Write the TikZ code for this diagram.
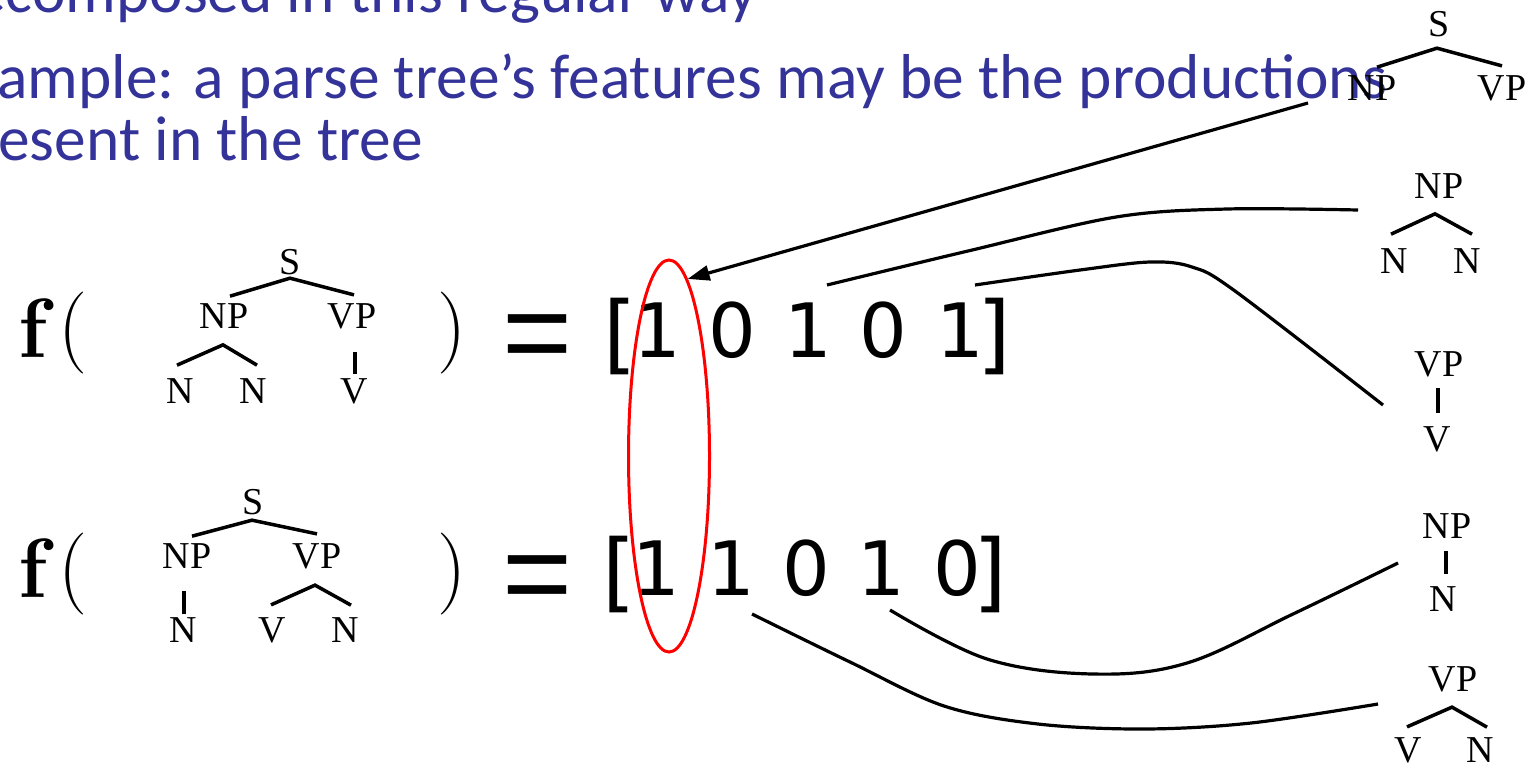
\documentclass[tikz,border=0pt]{standalone}
\usepackage{fontspec}
\usetikzlibrary{shapes.geometric,arrows.meta,calc}
\newfontfamily\bluefont{Carlito}
\newfontfamily\treefont{Liberation Serif}
\newfontfamily\digfont{DejaVu Sans}
\newfontfamily\eqfont{Liberation Sans}
\definecolor{slideblue}{RGB}{51,51,153}
\begin{document}
\begin{tikzpicture}[x=0.5pt,y=-0.5pt,
  lab/.style={inner sep=0pt, font=\treefont\fontsize{19}{19}\selectfont},
  tl/.style={line width=1.75pt},
  con/.style={line width=1.6pt},
  btxt/.style={anchor=base west, inner sep=0pt, text=slideblue, font=\bluefont\fontsize{31.7}{31.7}\selectfont},
  dig/.style={anchor=base, inner sep=0pt, font=\digfont\fontsize{37.5}{37.5}\selectfont},
  brk/.style={inner sep=0pt, font=\digfont\fontsize{43}{43}\selectfont},
  fn/.style={anchor=base, inner sep=0pt, font=\fontsize{42}{42}\selectfont\bfseries},
  par/.style={inner sep=0pt, font=\fontsize{41}{41}\selectfont},
  eqs/.style={anchor=base, inner sep=0pt, font=\eqfont\fontsize{60}{60}\selectfont},
]
\clip (0,0) rectangle (1540,767);

% blue slide text
\node[btxt] (line1) at (-26,12) {ecomposed in this regular way};
\node[btxt] (line2) at (-3,98) {ample: a parse tree’s features may be the productions};
\node[btxt] (line3) at (-2,160) {esent in the tree};

% ---- row 1 ----
\node[fn] (f1) at (33,357) {f};
\node[par] (lp1) at (73,333) {(};
\node[par] (rp1) at (452,333) {)};
\node[eqs] (eq1) at (538,373) {=};
\node[brk] (lb1) at (620,336) {[};
\node[dig] (d11) at (657,357) {1};
\node[dig] (d12) at (732,357) {0};
\node[dig] (d13) at (808,357) {1};
\node[dig] (d14) at (883,357) {0};
\node[dig] (d15) at (960,357) {1};
\node[brk] (rb1) at (994,336) {]};

\node[lab] (t1S) at (290,262) {S};
\node[lab] (t1NP) at (224,316) {NP};
\node[lab] (t1VP) at (352,316) {VP};
\node[lab] (t1Na) at (180,391) {N};
\node[lab] (t1Nb) at (253,391) {N};
\node[lab] (t1V) at (354,391) {V};
\draw[tl] ($(t1NP.north)+(6,-7)$) -- ($(t1S.south)+(0,3)$) -- ($(t1VP.north)+(2,-8)$);
\draw[tl] ($(t1Na.north)+(-3,-13)$) -- ($(t1NP.south)+(-1,16)$) -- ($(t1Nb.north)+(4,-13)$);
\draw[tl] ($(t1VP.south)+(3,23)$) -- ($(t1V.north)+(1,-4)$);

% ---- row 2 ----
\node[fn] (f2) at (33,597) {f};
\node[par] (lp2) at (73,574) {(};
\node[par] (rp2) at (452,574) {)};
\node[eqs] (eq2) at (538,614) {=};
\node[brk] (lb2) at (619,574) {[};
\node[dig] (d21) at (656,595) {1};
\node[dig] (d22) at (731,595) {1};
\node[dig] (d23) at (806,595) {0};
\node[dig] (d24) at (881,595) {1};
\node[dig] (d25) at (957,595) {0};
\node[brk] (rb2) at (990,574) {]};

\node[lab] (t2S) at (253,502) {S};
\node[lab] (t2NP) at (187,556) {NP};
\node[lab] (t2VP) at (317,556) {VP};
\node[lab] (t2N) at (183,630) {N};
\node[lab] (t2V) at (272,630) {V};
\node[lab] (t2Nb) at (345,630) {N};
\draw[tl] ($(t2NP.north)+(5,-7)$) -- ($(t2S.south)+(-1,5)$) -- ($(t2VP.north)+(0,-9)$);
\draw[tl] ($(t2NP.south)+(-3,22)$) -- ($(t2N.north)+(1,-3)$);
\draw[tl] ($(t2V.north)+(-1,-12)$) -- ($(t2VP.south)+(-2,16)$) -- ($(t2Nb.north)+(6,-12)$);

% ---- right-hand productions ----
\node[lab] (r1S) at (1439,24) {S};
\node[lab] (r1NP) at (1372,88) {NP};
\node[lab] (r1VP) at (1502,88) {VP};
\draw[tl] ($(r1NP.north)+(5,-8)$) -- ($(r1S.south)+(-2,11)$) -- ($(r1VP.north)+(0,-9)$);

\node[lab] (r2NP) at (1439,186) {NP};
\node[lab] (r2Na) at (1394,261) {N};
\node[lab] (r2Nb) at (1467,261) {N};
\draw[tl] ($(r2Na.north)+(-3,-14)$) -- ($(r2NP.south)+(-4,15)$) -- ($(r2Nb.north)+(5,-14)$);

\node[lab] (r3VP) at (1439,364) {VP};
\node[lab] (r3V) at (1437,439) {V};
\draw[tl] ($(r3VP.south)+(-1,11)$) -- ($(r3V.north)+(1,-13)$);

\node[lab] (r4NP) at (1447,526) {NP};
\node[lab] (r4N) at (1443,599) {N};
\draw[tl] ($(r4NP.south)+(-1,12)$) -- ($(r4N.north)+(3,-12)$);

\node[lab] (r5VP) at (1453,679) {VP};
\node[lab] (r5V) at (1408,750) {V};
\node[lab] (r5N) at (1480,750) {N};
\draw[tl] ($(r5V.north)+(-1,-10)$) -- ($(r5VP.south)+(-1,15)$) -- ($(r5N.north)+(7,-10)$);

% ---- red oval ----
\node[draw=red, line width=1.5pt, ellipse, inner sep=0pt,
      minimum width=40.5pt, minimum height=196pt] (oval) at (669,456) {};

% ---- connectors ----
\coordinate (c1s) at (1308,103);
\coordinate (c2s) at (827,285);
\coordinate (c2e) at (1358,210);
\coordinate (c3s) at (975,285);
\coordinate (c3e) at (1383,405);
\coordinate (c4s) at (890,610);
\coordinate (c4e) at (1398,563);
\coordinate (c5s) at (752,614);
\coordinate (c5e) at (1378,704);

\draw[con, -{Triangle[length=11pt,width=7.5pt]}] (c1s) -- (oval.84);
\draw[con] plot[smooth, tension=0.55] coordinates {(c2s) (968,251) (1116,217) (1227,209) (c2e)};
\draw[con] plot[smooth, tension=0.55] coordinates {(c3s) (1080,270) (1150,262) (1192,267) (1235,291) (c3e)};
\draw[con] plot[smooth, tension=0.6] coordinates {(c4s) (987,659) (1093,674) (1187,663) (1293,614) (c4e)};
\draw[con] plot[smooth, tension=0.55] coordinates {(c5s) (850,662) (944,706) (1038,724) (1144,729) (1251,723) (c5e)};
\end{tikzpicture}
\end{document}
